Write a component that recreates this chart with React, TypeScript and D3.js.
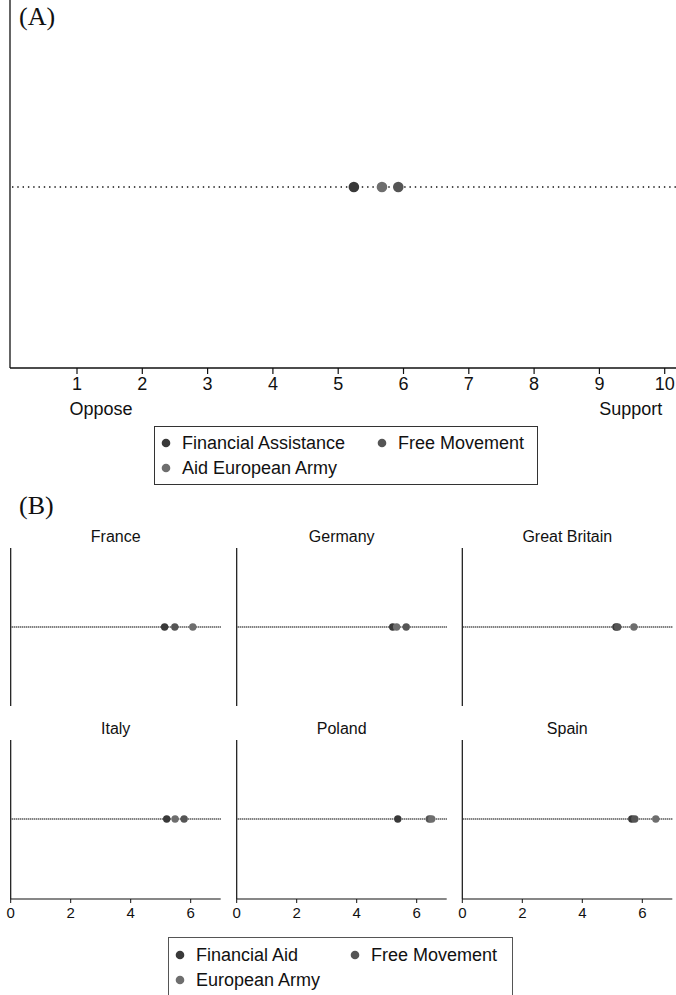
import React from "react";
import * as d3 from "d3";

// ---- Data ----
const seriesA = ["Financial Assistance", "Aid European Army", "Free Movement"];
const valuesA = [5.24, 5.67, 5.92];
const ticksA = [1, 2, 3, 4, 5, 6, 7, 8, 9, 10];

const countries = ["France", "Germany", "Great Britain", "Italy", "Poland", "Spain"];
const seriesB = ["Financial Aid", "European Army", "Free Movement"];
const financialAid = [5.13, 5.2, 5.12, 5.2, 5.37, 5.65];
const europeanArmy = [6.07, 5.33, 5.72, 5.48, 6.5, 6.45];
const freeMovement = [5.47, 5.65, 5.18, 5.78, 6.42, 5.75];
const ticksB = [0, 2, 4, 6];

const colors: Record<string, string> = {
  "Financial Assistance": "#393939",
  "Aid European Army": "#6e6e6e",
  "Free Movement": "#555555",
  "Financial Aid": "#393939",
  "European Army": "#6e6e6e",
};

const sans = "'Liberation Sans', Arial, Helvetica, sans-serif";
const serif = "'Liberation Serif', 'Times New Roman', serif";

export default function App() {
  const W = 676;
  const H = 995;

  // Panel A
  const xA = d3.scaleLinear().domain([0, 10.15]).range([11.7, 674.5]);
  const axisAY = 368;
  const dotAY = 187;

  // Panel B
  const colX = [10.7, 236.7, 462.3];
  const xB = (c: number) => d3.scaleLinear().domain([0, 7]).range([colX[c], colX[c] + 210]);
  const rowTop = [548, 740];
  const rowBottom = [706, 899];
  const rowLine = [627, 819];
  const rowTitle = [536, 728];

  const legendItem = (label: string, x: number, y: number, fs: number, r: number) => (
    <g key={label}>
      <circle cx={x} cy={y} r={r} fill={colors[label]} />
      <text x={x + 16} y={y} dy="0.35em" fontFamily={sans} fontSize={fs} fill="#111">
        {label}
      </text>
    </g>
  );

  const bData = countries.map((c, i) => ({
    country: c,
    vals: [
      { s: "Financial Aid", v: financialAid[i] },
      { s: "Free Movement", v: freeMovement[i] },
      { s: "European Army", v: europeanArmy[i] },
    ],
  }));

  return (
    <svg width={W} height={H} style={{ position: "absolute", left: 0, top: 0, background: "#fff" }}>
      {/* Panel A */}
      <text x={19} y={25} fontFamily={serif} fontSize={26} fill="#111">(A)</text>
      <line x1={10} y1={0} x2={10} y2={axisAY} stroke="#111" strokeWidth={1.3} />
      <line x1={10} y1={axisAY} x2={676} y2={axisAY} stroke="#111" strokeWidth={1.3} />
      {ticksA.map((t) => (
        <g key={t}>
          <line x1={xA(t)} x2={xA(t)} y1={axisAY} y2={axisAY + 6} stroke="#111" strokeWidth={1.2} />
          <text x={xA(t)} y={384} dy="0.35em" textAnchor="middle" fontFamily={sans} fontSize={18} fill="#111">
            {t}
          </text>
        </g>
      ))}
      <text x={xA(1) + 24} y={409} dy="0.35em" textAnchor="middle" fontFamily={sans} fontSize={18} fill="#111">Oppose</text>
      <text x={xA(10) - 34} y={409} dy="0.35em" textAnchor="middle" fontFamily={sans} fontSize={18} fill="#111">Support</text>
      <line x1={12} x2={676} y1={dotAY} y2={dotAY} stroke="#111" strokeWidth={1.5} strokeDasharray="1.4,3.9" />
      {seriesA.map((s, i) => (
        <circle key={s} cx={xA(valuesA[i])} cy={dotAY} r={5.3} fill={colors[s]} />
      ))}

      {/* Legend A */}
      <rect x={154.5} y={426.5} width={383} height={58} fill="none" stroke="#333" strokeWidth={1} />
      {legendItem("Financial Assistance", 166, 443, 18, 4.3)}
      {legendItem("Free Movement", 382, 443, 18, 4.3)}
      {legendItem("Aid European Army", 166, 468, 18, 4.3)}

      {/* Panel B */}
      <text x={19} y={514} fontFamily={serif} fontSize={26} fill="#111">(B)</text>
      {bData.map((d, i) => {
        const r = Math.floor(i / 3);
        const c = i % 3;
        const x = xB(c);
        return (
          <g key={d.country}>
            <text x={colX[c] + 105} y={rowTitle[r]} dy="0.35em" textAnchor="middle" fontFamily={sans} fontSize={16} fill="#111">
              {d.country}
            </text>
            <line x1={colX[c]} x2={colX[c]} y1={rowTop[r]} y2={rowBottom[r]} stroke="#111" strokeWidth={1.2} />
            <line x1={colX[c] + 1} x2={x(7)} y1={rowLine[r]} y2={rowLine[r]} stroke="#111" strokeWidth={1.3} strokeDasharray="1,1" />
            {d.vals.map((p) => (
              <circle key={p.s} cx={x(p.v)} cy={rowLine[r]} r={3.7} fill={colors[p.s]} />
            ))}
            {r === 1 && (
              <g>
                <line x1={colX[c]} x2={x(7)} y1={rowBottom[r]} y2={rowBottom[r]} stroke="#111" strokeWidth={1.2} />
                {ticksB.map((t) => (
                  <g key={t}>
                    <line x1={x(t)} x2={x(t)} y1={rowBottom[r]} y2={rowBottom[r] + 4} stroke="#111" strokeWidth={1} />
                    <text x={x(t)} y={913} dy="0.35em" textAnchor="middle" fontFamily={sans} fontSize={15} fill="#111">
                      {t}
                    </text>
                  </g>
                ))}
              </g>
            )}
          </g>
        );
      })}

      {/* Legend B */}
      <rect x={168.5} y={937.5} width={344} height={60} fill="none" stroke="#555" strokeWidth={1} />
      {legendItem("Financial Aid", 180, 955, 18, 4.3)}
      {legendItem("Free Movement", 355, 955, 18, 4.3)}
      {legendItem("European Army", 180, 980, 18, 4.3)}
    </svg>
  );
}
